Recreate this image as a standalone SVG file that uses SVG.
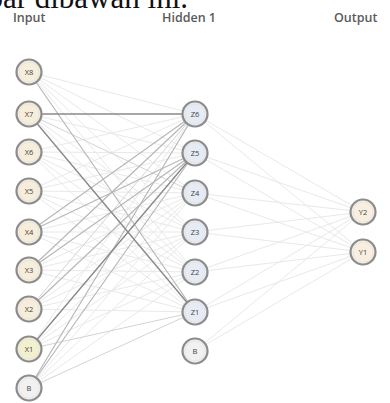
<svg xmlns="http://www.w3.org/2000/svg" width="390" height="403" viewBox="0 0 390 403">
  <style>
    .hdr { font-family: "Open Sans", "Noto Sans", sans-serif; font-size: 12.5px; font-weight: 600; fill: #5a5a5a; }
    .cap { font-family: "Liberation Serif", serif; font-size: 31px; fill: #111; }
    .node circle.body { stroke: #8c8c8c; stroke-width: 2.2; }
    .node .ring { fill: none; stroke: #e2e2e2; stroke-width: 0.8; }
    .node text { font-family: "Open Sans", "Noto Sans", sans-serif; font-size: 7.5px; fill: #444; text-anchor: middle; dominant-baseline: central; }
    .in circle.body { fill: #f6eddb; }
    .x1 circle.body { fill: #f3f0cf; }
    .hid circle.body { fill: #e6ebf4; }
    .out circle.body { fill: #f8efe0; }
    .bias circle.body { fill: #f1f1f1; }
    #connectors line { stroke-linecap: round; }
    .w0 { stroke: #e9e9e9; stroke-width: 1; }
    .w1 { stroke: #d4d4d4; stroke-width: 1; }
    .w2 { stroke: #b8b8b8; stroke-width: 1.2; }
    .w3 { stroke: #8a8a8a; stroke-width: 1.4; }
  </style>

  <text class="cap" x="188" y="8" text-anchor="end">gambar dibawah ini.</text>

  <text class="hdr" x="13" y="22">Input</text>
  <text class="hdr" x="162" y="22">Hidden 1</text>
  <text class="hdr" x="334" y="22">Output</text>

  <g id="connectors">
    <!-- input layer to hidden layer, faint weights -->
    <g class="w0">
      <line x1="29" y1="72" x2="195" y2="114"/><line x1="29" y1="72" x2="195" y2="153"/><line x1="29" y1="72" x2="195" y2="193"/><line x1="29" y1="72" x2="195" y2="232"/><line x1="29" y1="72" x2="195" y2="272"/>
      <line x1="29" y1="114" x2="195" y2="153"/><line x1="29" y1="114" x2="195" y2="232"/><line x1="29" y1="114" x2="195" y2="272"/>
      <line x1="29" y1="152" x2="195" y2="114"/><line x1="29" y1="152" x2="195" y2="153"/><line x1="29" y1="152" x2="195" y2="193"/><line x1="29" y1="152" x2="195" y2="232"/><line x1="29" y1="152" x2="195" y2="272"/><line x1="29" y1="152" x2="195" y2="312"/>
      <line x1="29" y1="191" x2="195" y2="114"/><line x1="29" y1="191" x2="195" y2="153"/><line x1="29" y1="191" x2="195" y2="193"/><line x1="29" y1="191" x2="195" y2="232"/><line x1="29" y1="191" x2="195" y2="272"/><line x1="29" y1="191" x2="195" y2="312"/>
      <line x1="29" y1="232" x2="195" y2="193"/><line x1="29" y1="232" x2="195" y2="232"/><line x1="29" y1="232" x2="195" y2="272"/><line x1="29" y1="232" x2="195" y2="312"/>
      <line x1="29" y1="270" x2="195" y2="193"/><line x1="29" y1="270" x2="195" y2="232"/><line x1="29" y1="270" x2="195" y2="272"/><line x1="29" y1="270" x2="195" y2="312"/>
      <line x1="29" y1="309" x2="195" y2="193"/><line x1="29" y1="309" x2="195" y2="232"/><line x1="29" y1="309" x2="195" y2="272"/><line x1="29" y1="309" x2="195" y2="312"/>
      <line x1="29" y1="349" x2="195" y2="114"/><line x1="29" y1="349" x2="195" y2="193"/><line x1="29" y1="349" x2="195" y2="232"/><line x1="29" y1="349" x2="195" y2="272"/>
      <line x1="29" y1="388" x2="195" y2="193"/><line x1="29" y1="388" x2="195" y2="232"/><line x1="29" y1="388" x2="195" y2="272"/>
    </g>
    <g class="w1">
      <line x1="29" y1="114" x2="195" y2="193"/>
      <line x1="29" y1="309" x2="195" y2="114"/>
      <line x1="29" y1="349" x2="195" y2="312"/>
      <line x1="29" y1="388" x2="195" y2="312"/>
    </g>
    <g class="w2">
      <line x1="29" y1="72" x2="195" y2="312"/>
      <line x1="29" y1="232" x2="195" y2="114"/>
      <line x1="29" y1="232" x2="195" y2="153"/>
      <line x1="29" y1="270" x2="195" y2="114"/>
      <line x1="29" y1="270" x2="195" y2="153"/>
      <line x1="29" y1="309" x2="195" y2="153"/>
      <line x1="29" y1="388" x2="195" y2="114"/>
      <line x1="29" y1="388" x2="195" y2="153"/>
    </g>
    <g class="w3">
      <line x1="29" y1="114" x2="195" y2="114"/>
      <line x1="29" y1="114" x2="195" y2="312"/>
      <line x1="29" y1="349" x2="195" y2="153"/>
    </g>
    <!-- hidden layer to output layer -->
    <g class="w0">
      <line x1="195" y1="114" x2="363" y2="212"/><line x1="195" y1="114" x2="363" y2="252"/>
      <line x1="195" y1="153" x2="363" y2="212"/><line x1="195" y1="153" x2="363" y2="252"/>
      <line x1="195" y1="193" x2="363" y2="212"/><line x1="195" y1="193" x2="363" y2="252"/>
      <line x1="195" y1="232" x2="363" y2="212"/><line x1="195" y1="232" x2="363" y2="252"/>
      <line x1="195" y1="272" x2="363" y2="212"/><line x1="195" y1="272" x2="363" y2="252"/>
      <line x1="195" y1="312" x2="363" y2="212"/><line x1="195" y1="312" x2="363" y2="252"/>
      <line x1="195" y1="351" x2="363" y2="212"/><line x1="195" y1="351" x2="363" y2="252"/>
    </g>
  </g>

  <!-- input layer -->
  <g id="x8" class="node in"><circle class="body" cx="29" cy="72" r="12.5"/><circle class="ring" cx="29" cy="72" r="10"/><text x="29" y="72">X8</text></g>
  <g id="x7" class="node in"><circle class="body" cx="29" cy="114" r="12.5"/><circle class="ring" cx="29" cy="114" r="10"/><text x="29" y="114">X7</text></g>
  <g id="x6" class="node in"><circle class="body" cx="29" cy="152" r="12.5"/><circle class="ring" cx="29" cy="152" r="10"/><text x="29" y="152">X6</text></g>
  <g id="x5" class="node in"><circle class="body" cx="29" cy="191" r="12.5"/><circle class="ring" cx="29" cy="191" r="10"/><text x="29" y="191">X5</text></g>
  <g id="x4" class="node in"><circle class="body" cx="29" cy="232" r="12.5"/><circle class="ring" cx="29" cy="232" r="10"/><text x="29" y="232">X4</text></g>
  <g id="x3" class="node in"><circle class="body" cx="29" cy="270" r="12.5"/><circle class="ring" cx="29" cy="270" r="10"/><text x="29" y="270">X3</text></g>
  <g id="x2" class="node in"><circle class="body" cx="29" cy="309" r="12.5"/><circle class="ring" cx="29" cy="309" r="10"/><text x="29" y="309">X2</text></g>
  <g id="x1" class="node x1"><circle class="body" cx="29" cy="349" r="12.5"/><circle class="ring" cx="29" cy="349" r="10"/><text x="29" y="349">X1</text></g>
  <g id="bias-in" class="node bias"><circle class="body" cx="29" cy="388" r="12.5"/><circle class="ring" cx="29" cy="388" r="10"/><text x="29" y="388">B</text></g>

  <!-- hidden layer -->
  <g id="z6" class="node hid"><circle class="body" cx="195" cy="114" r="12.5"/><circle class="ring" cx="195" cy="114" r="10"/><text x="195" y="114">Z6</text></g>
  <g id="z5" class="node hid"><circle class="body" cx="195" cy="153" r="12.5"/><circle class="ring" cx="195" cy="153" r="10"/><text x="195" y="153">Z5</text></g>
  <g id="z4" class="node hid"><circle class="body" cx="195" cy="193" r="12.5"/><circle class="ring" cx="195" cy="193" r="10"/><text x="195" y="193">Z4</text></g>
  <g id="z3" class="node hid"><circle class="body" cx="195" cy="232" r="12.5"/><circle class="ring" cx="195" cy="232" r="10"/><text x="195" y="232">Z3</text></g>
  <g id="z2" class="node hid"><circle class="body" cx="195" cy="272" r="12.5"/><circle class="ring" cx="195" cy="272" r="10"/><text x="195" y="272">Z2</text></g>
  <g id="z1" class="node hid"><circle class="body" cx="195" cy="312" r="12.5"/><circle class="ring" cx="195" cy="312" r="10"/><text x="195" y="312">Z1</text></g>
  <g id="bias-hid" class="node bias"><circle class="body" cx="195" cy="351" r="12.5"/><circle class="ring" cx="195" cy="351" r="10"/><text x="195" y="351">B</text></g>

  <!-- output layer -->
  <g id="y2" class="node out"><circle class="body" cx="363" cy="212" r="12.5"/><circle class="ring" cx="363" cy="212" r="10"/><text x="363" y="212">Y2</text></g>
  <g id="y1" class="node out"><circle class="body" cx="363" cy="252" r="12.5"/><circle class="ring" cx="363" cy="252" r="10"/><text x="363" y="252">Y1</text></g>
</svg>
